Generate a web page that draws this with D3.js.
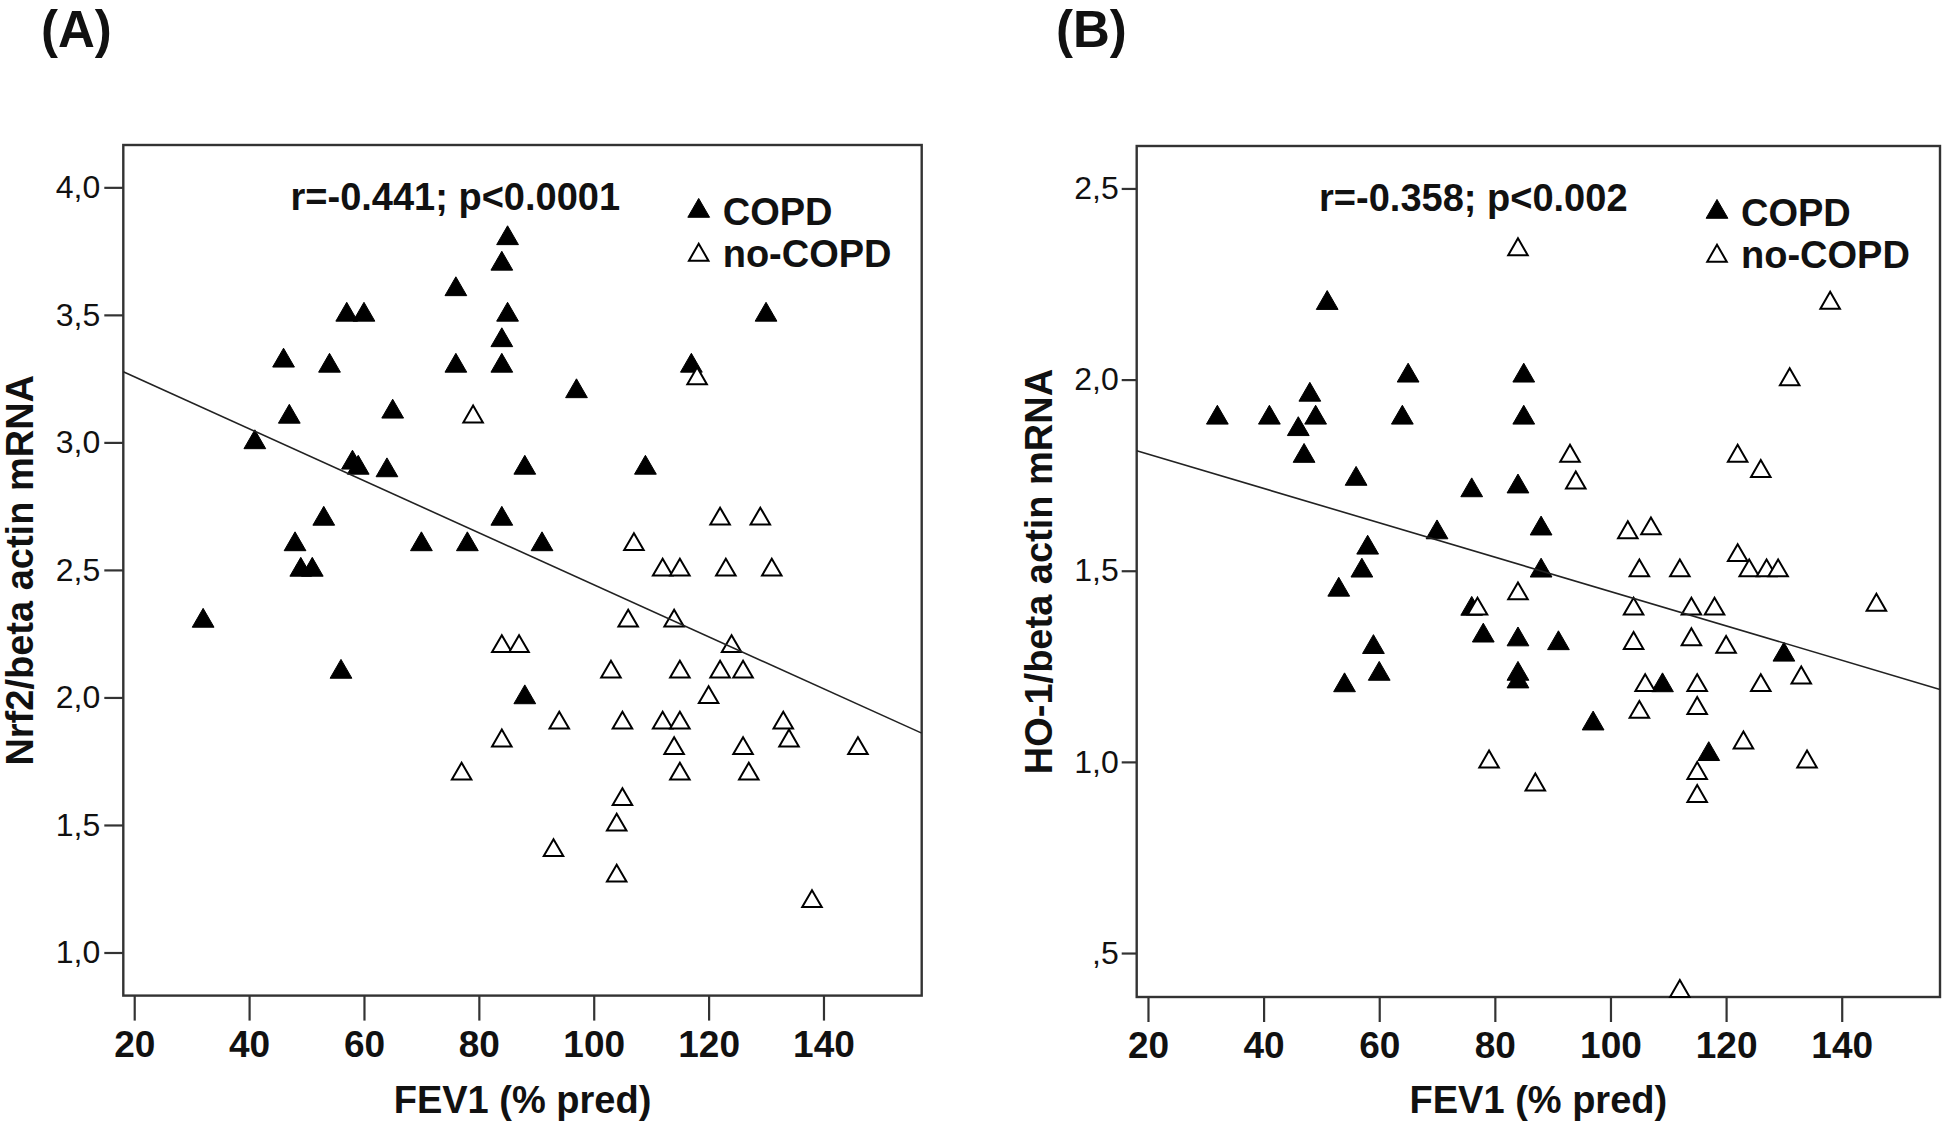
<!DOCTYPE html>
<html>
<head>
<meta charset="utf-8">
<script src="https://cdn.jsdelivr.net/npm/d3@7"></script>
<style>
  html, body { margin: 0; padding: 0; background: #fff; }
  svg { display: block; }
  text { font-family: "Liberation Sans", Arial, Helvetica, sans-serif; fill: #111; }
</style>
</head>
<body>
<svg id="chart" width="1946" height="1128"></svg>
<script>
// ---------------- DATA ----------------
const panelLabels = ["(A)", "(B)"];
const xTitle = "FEV1 (% pred)";
const yTitles = ["Nrf2/beta actin mRNA", "HO-1/beta actin mRNA"];
const statTexts = ["r=-0.441; p<0.0001", "r=-0.358; p<0.002"];
const legendLabels = ["COPD", "no-COPD"];

const xTicks = [20, 40, 60, 80, 100, 120, 140];
const xTickLabels = ["20", "40", "60", "80", "100", "120", "140"];
const yTicksA = [1.0, 1.5, 2.0, 2.5, 3.0, 3.5, 4.0];
const yTickLabelsA = ["1,0", "1,5", "2,0", "2,5", "3,0", "3,5", "4,0"];
const yTicksB = [0.5, 1.0, 1.5, 2.0, 2.5];
const yTickLabelsB = [",5", "1,0", "1,5", "2,0", "2,5"];

// [FEV1 % pred, Nrf2/beta actin]
const copdNrf2 = [[32,2.3],[41,3.0],[46,3.32],[47,3.1],[48,2.6],[49,2.5],[51,2.5],[53,2.7],[54,3.3],[56,2.1],[57,3.5],[58,2.92],[59,2.9],[60,3.5],[64,2.89],[65,3.12],[70,2.6],[76,3.6],[76,3.3],[78,2.6],[84,3.7],[85,3.8],[85,3.5],[84,3.4],[84,3.3],[84,2.7],[88,2.9],[88,2.0],[91,2.6],[97,3.2],[109,2.9],[117,3.3],[130,3.5]];
const noCopdNrf2 = [[77,1.7],[79,3.1],[84,2.2],[87,2.2],[84,1.83],[93,1.4],[94,1.9],[103,2.1],[104,1.5],[104,1.3],[105,1.9],[105,1.6],[106,2.3],[107,2.6],[112,2.5],[112,1.9],[114,2.3],[114,1.8],[115,2.5],[115,2.1],[115,1.9],[115,1.7],[118,3.25],[120,2.0],[122,2.7],[122,2.1],[123,2.5],[124,2.2],[126,2.1],[126,1.8],[127,1.7],[129,2.7],[131,2.5],[133,1.9],[134,1.83],[138,1.2],[146,1.8]];

// [FEV1 % pred, HO-1/beta actin]
const copdHO1 = [[32,1.9],[41,1.9],[46,1.87],[47,1.8],[48,1.96],[49,1.9],[51,2.2],[53,1.45],[54,1.2],[56,1.74],[57,1.5],[58,1.56],[59,1.3],[60,1.23],[64,1.9],[65,2.01],[70,1.6],[76,1.71],[76,1.4],[78,1.33],[84,1.72],[84,1.32],[84,1.23],[84,1.21],[85,2.01],[85,1.9],[88,1.61],[88,1.5],[91,1.31],[97,1.1],[109,1.2],[117,1.02],[130,1.28]];
const noCopdHO1 = [[77,1.4],[79,1.0],[84,2.34],[84,1.44],[87,0.94],[93,1.8],[94,1.73],[103,1.6],[104,1.4],[104,1.31],[105,1.5],[105,1.13],[106,1.2],[107,1.61],[112,1.5],[112,0.4],[114,1.4],[114,1.32],[115,1.2],[115,1.14],[115,0.97],[115,0.91],[118,1.4],[120,1.3],[122,1.8],[122,1.54],[123,1.05],[124,1.5],[126,1.76],[126,1.2],[127,1.5],[129,1.5],[131,2.0],[133,1.22],[134,1.0],[138,2.2],[146,1.41]];

// linear fit lines: [intercept, slope]
const fitNrf2 = [3.461, -0.01019];
const fitHO1 = [1.895, -0.004493];

// ---------------- LAYOUT ----------------
const svg = d3.select("#chart");
svg.append("rect").attr("width", 1946).attr("height", 1128).attr("fill", "#fff");

const panels = [
  { label: panelLabels[0], labelX: 41, frame: { l: 123.3, r: 921.7, t: 145, b: 995.6 },
    xDomain: [18.1, 157.1], yDomain: [0.831, 4.166],
    yTicks: yTicksA, yTickLabels: yTickLabelsA, yTickLen: 19, yPad: 4,
    yTitle: yTitles[0], yTitleX: 33, stat: statTexts[0], statDx: 332,
    copd: copdNrf2, noCopd: noCopdNrf2, fit: fitNrf2 },
  { label: panelLabels[1], labelX: 1056, frame: { l: 1136.7, r: 1940, t: 146, b: 997 },
    xDomain: [18.05, 157.0], yDomain: [0.385, 2.611],
    yTicks: yTicksB, yTickLabels: yTickLabelsB, yTickLen: 15, yPad: 3,
    yTitle: yTitles[1], yTitleX: 1051.5, stat: statTexts[1], statDx: 336.6,
    copd: copdHO1, noCopd: noCopdHO1, fit: fitHO1 }
];

const axisColor = "#333";
const triFilled = d3.symbol().type(d3.symbolTriangle).size(205);
const triOpen = d3.symbol().type(d3.symbolTriangle).size(165);

panels.forEach(p => {
  const f = p.frame;
  const x = d3.scaleLinear().domain(p.xDomain).range([f.l, f.r]);
  const y = d3.scaleLinear().domain(p.yDomain).range([f.b, f.t]);
  const g = svg.append("g");

  // panel label
  g.append("text").attr("x", p.labelX).attr("y", 47)
    .attr("font-size", 51).attr("font-weight", "bold").text(p.label);

  // x axis
  const xa = g.append("g").attr("transform", `translate(0,${f.b})`)
    .call(d3.axisBottom(x).tickValues(xTicks).tickSize(25).tickPadding(10)
      .tickFormat((d, i) => xTickLabels[i]));
  xa.select(".domain").remove();
  xa.selectAll(".tick line").attr("stroke", axisColor).attr("stroke-width", 2.2);
  xa.selectAll(".tick text").attr("font-size", 37).attr("font-weight", "bold")
    .attr("fill", "#111").attr("font-family", "Liberation Sans, Arial, sans-serif");

  // y axis
  const ya = g.append("g").attr("transform", `translate(${f.l},0)`)
    .call(d3.axisLeft(y).tickValues(p.yTicks).tickSize(p.yTickLen).tickPadding(p.yPad)
      .tickFormat((d, i) => p.yTickLabels[i]));
  ya.select(".domain").remove();
  ya.selectAll(".tick line").attr("stroke", axisColor).attr("stroke-width", 2.2);
  ya.selectAll(".tick text").attr("font-size", 32).attr("fill", "#111")
    .attr("font-family", "Liberation Sans, Arial, sans-serif");

  // frame
  g.append("rect").attr("x", f.l).attr("y", f.t)
    .attr("width", f.r - f.l).attr("height", f.b - f.t)
    .attr("fill", "none").attr("stroke", axisColor).attr("stroke-width", 2.4);

  // axis titles
  g.append("text").attr("x", (f.l + f.r) / 2).attr("y", 1112.5)
    .attr("text-anchor", "middle").attr("font-size", 38).attr("font-weight", "bold")
    .text(xTitle);
  g.append("text")
    .attr("transform", `translate(${p.yTitleX},${(f.t + f.b) / 2}) rotate(-90)`)
    .attr("text-anchor", "middle").attr("font-size", 38).attr("font-weight", "bold")
    .text(p.yTitle);

  // points: filled (COPD) then open (no-COPD)
  const pts = g.append("g");
  pts.selectAll("path.copd").data(p.copd).join("path").attr("class", "copd")
    .attr("d", triFilled)
    .attr("transform", d => `translate(${x(d[0])},${y(d[1])})`)
    .attr("fill", "#000").attr("stroke", "#000").attr("stroke-width", 1);
  pts.selectAll("path.nocopd").data(p.noCopd).join("path").attr("class", "nocopd")
    .attr("d", triOpen)
    .attr("transform", d => `translate(${x(d[0])},${y(d[1])})`)
    .attr("fill", "#fff").attr("stroke", "#000").attr("stroke-width", 2)
    .attr("stroke-linejoin", "miter");

  // fit line across the frame
  const [b0, b1] = p.fit;
  const xs = p.xDomain;
  g.append("line")
    .attr("x1", x(xs[0])).attr("y1", y(b0 + b1 * xs[0]))
    .attr("x2", x(xs[1])).attr("y2", y(b0 + b1 * xs[1]))
    .attr("stroke", "#222").attr("stroke-width", 1.6);

  // stat annotation
  g.append("text").attr("x", f.l + p.statDx).attr("y", f.t + 65)
    .attr("text-anchor", "middle").attr("font-size", 38).attr("font-weight", "bold")
    .text(p.stat);

  // legend
  const lx = f.r - 199;
  g.append("path").attr("d", triFilled)
    .attr("transform", `translate(${f.r - 223},${f.t + 66})`)
    .attr("fill", "#000").attr("stroke", "#000").attr("stroke-width", 1);
  g.append("text").attr("x", lx).attr("y", f.t + 80)
    .attr("font-size", 38).attr("font-weight", "bold").text(legendLabels[0]);
  g.append("path").attr("d", triOpen)
    .attr("transform", `translate(${f.r - 223},${f.t + 110})`)
    .attr("fill", "#fff").attr("stroke", "#000").attr("stroke-width", 2);
  g.append("text").attr("x", lx).attr("y", f.t + 122)
    .attr("font-size", 38).attr("font-weight", "bold").text(legendLabels[1]);
});
</script>
</body>
</html>
